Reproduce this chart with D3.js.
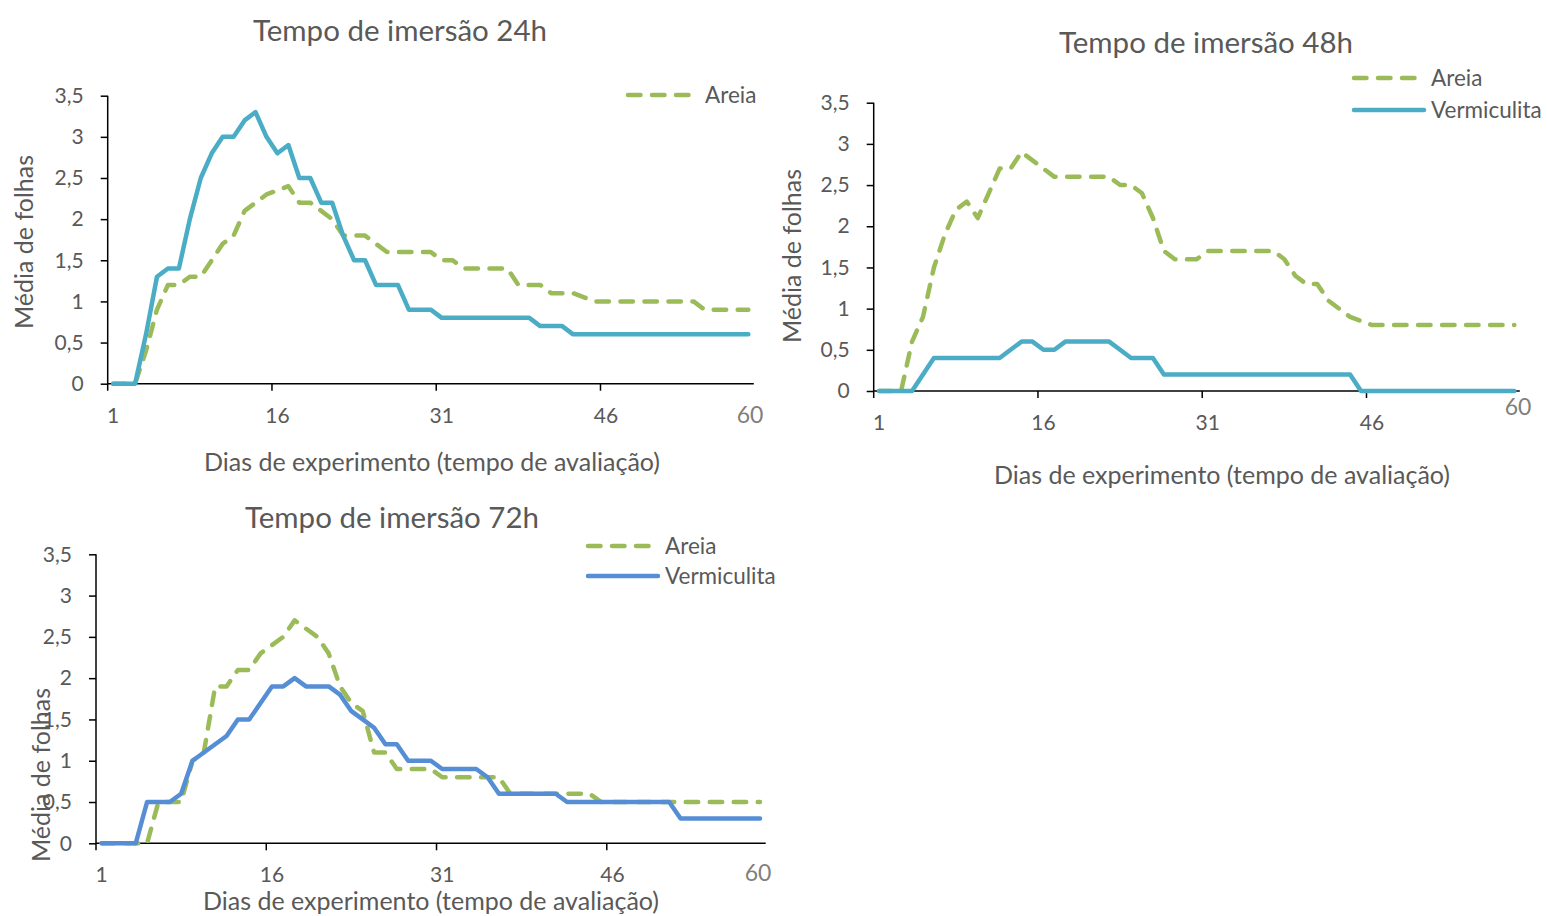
<!DOCTYPE html>
<html>
<head>
<meta charset="utf-8">
<script src="https://cdn.jsdelivr.net/npm/d3@7"></script>
<style>
  body { margin: 0; background: #fff; }
  svg { display: block; font-family: Lato, "Open Sans", sans-serif; }
</style>
</head>
<body>
<svg id="chart" width="1547" height="916"></svg>
<script>
// Evaluation days (category axis) and the labelled days
const days = [1,2,3,4,5,6,7,8,9,10,11,12,13,14,15,16,17,18,19,20,21,22,23,24,25,26,27,28,29,30,
              31,32,33,34,35,36,37,38,39,40,41,42,43,44,45,46,47,48,49,50,51,52,53,54,55,56,57,58,59];
const xTickDays = [1, 16, 31, 46];
const yTicks = [0, 0.5, 1, 1.5, 2, 2.5, 3, 3.5];
const lastDayLabel = "60";

const seriesNames = ["Areia", "Vermiculita"];
const chartTitles = ["Tempo de imersão 24h", "Tempo de imersão 48h", "Tempo de imersão 72h"];
const xAxisTitle = "Dias de experimento (tempo de avaliação)";
const yAxisTitle = "Média de folhas";

// Mean number of leaves per day — 24 h immersion
const areia24 = [0,0,0,0.4,0.9,1.2,1.2,1.3,1.3,1.5,1.7,1.8,2.1,2.2,2.3,2.35,2.4,2.2,2.2,2.1,
                 2.0,1.8,1.8,1.8,1.7,1.6,1.6,1.6,1.6,1.6,1.5,1.5,1.4,1.4,1.4,1.4,1.4,1.2,1.2,1.2,
                 1.1,1.1,1.1,1.05,1.0,1.0,1.0,1.0,1.0,1.0,1.0,1.0,1.0,1.0,0.9,0.9,0.9,0.9,0.9];
const verm24  = [0,0,0,0.6,1.3,1.4,1.4,2.0,2.5,2.8,3.0,3.0,3.2,3.3,3.0,2.8,2.9,2.5,2.5,2.2,
                 2.2,1.8,1.5,1.5,1.2,1.2,1.2,0.9,0.9,0.9,0.8,0.8,0.8,0.8,0.8,0.8,0.8,0.8,0.8,0.7,
                 0.7,0.7,0.6,0.6,0.6,0.6,0.6,0.6,0.6,0.6,0.6,0.6,0.6,0.6,0.6,0.6,0.6,0.6,0.6];

// 48 h immersion
const areia48 = [0,0,0,0.6,0.9,1.5,1.9,2.2,2.3,2.1,2.4,2.7,2.7,2.9,2.8,2.7,2.6,2.6,2.6,2.6,
                 2.6,2.6,2.5,2.5,2.4,2.1,1.7,1.6,1.6,1.6,1.7,1.7,1.7,1.7,1.7,1.7,1.7,1.6,1.4,1.3,
                 1.3,1.1,1.0,0.9,0.85,0.8,0.8,0.8,0.8,0.8,0.8,0.8,0.8,0.8,0.8,0.8,0.8,0.8,0.8];
const verm48  = [0,0,0,0,0.2,0.4,0.4,0.4,0.4,0.4,0.4,0.4,0.5,0.6,0.6,0.5,0.5,0.6,0.6,0.6,
                 0.6,0.6,0.5,0.4,0.4,0.4,0.2,0.2,0.2,0.2,0.2,0.2,0.2,0.2,0.2,0.2,0.2,0.2,0.2,0.2,
                 0.2,0.2,0.2,0.2,0,0,0,0,0,0,0,0,0,0,0,0,0,0,0];

// 72 h immersion
const areia72 = [0,0,0,0,0,0.5,0.5,0.5,1.0,1.1,1.9,1.9,2.1,2.1,2.3,2.4,2.5,2.7,2.6,2.5,
                 2.3,1.9,1.7,1.6,1.1,1.1,0.9,0.9,0.9,0.9,0.8,0.8,0.8,0.8,0.8,0.8,0.6,0.6,0.6,0.6,
                 0.6,0.6,0.6,0.6,0.5,0.5,0.5,0.5,0.5,0.5,0.5,0.5,0.5,0.5,0.5,0.5,0.5,0.5,0.5];
const verm72  = [0,0,0,0,0.5,0.5,0.5,0.6,1.0,1.1,1.2,1.3,1.5,1.5,1.7,1.9,1.9,2.0,1.9,1.9,
                 1.9,1.8,1.6,1.5,1.4,1.2,1.2,1.0,1.0,1.0,0.9,0.9,0.9,0.9,0.8,0.6,0.6,0.6,0.6,0.6,
                 0.6,0.5,0.5,0.5,0.5,0.5,0.5,0.5,0.5,0.5,0.5,0.3,0.3,0.3,0.3,0.3,0.3,0.3,0.3];

const GREEN = "#9BBB59";
const TEXT = "#595959";
const FONT = "Lato, 'Open Sans', sans-serif";

const panels = [
  { title: chartTitles[0], areia: areia24, verm: verm24, blue: "#4BACC6",
    left: 107.7, right: 753.8, top: 95.7, bottom: 383.7,
    titlePos: [400, 31], xTitlePos: [432, 462], yTitlePos: [24, 242], lastPos: [750, 415],
    legend: { x: 628, y: 95, gap: 32, items: [0] } },
  { title: chartTitles[1], areia: areia48, verm: verm48, blue: "#4BACC6",
    left: 873.7, right: 1519.8, top: 102.7, bottom: 391,
    titlePos: [1206, 43], xTitlePos: [1222, 475], yTitlePos: [792, 256], lastPos: [1518, 407],
    legend: { x: 1354, y: 78, gap: 32, items: [0, 1] } },
  { title: chartTitles[2], areia: areia72, verm: verm72, blue: "#558ED5",
    left: 96, right: 765.7, top: 554.3, bottom: 843.3,
    titlePos: [392, 518], xTitlePos: [431, 901], yTitlePos: [41, 775], lastPos: [758, 873],
    legend: { x: 588, y: 546, gap: 30, items: [0, 1] } }
];

const svg = d3.select("#chart");
const ptBR = d3.formatLocale({ decimal: ",", thousands: ".", grouping: [3], currency: ["R$", ""] });
const fmt = v => ptBR.format("~g")(v);

const DASH = "12.5 11.5";
const LW = 4.5;

panels.forEach(p => {
  const g = svg.append("g");

  const x = d3.scaleBand().domain(days).range([p.left, p.right]).paddingInner(0).paddingOuter(0);
  const bw = x.bandwidth();
  const y = d3.scaleLinear().domain([0, 3.5]).range([p.bottom, p.top]);

  // title
  g.append("text")
    .attr("x", p.titlePos[0]).attr("y", p.titlePos[1])
    .attr("text-anchor", "middle").attr("dy", "0.35em")
    .attr("font-size", 29.5).attr("fill", TEXT)
    .text(p.title);

  // y axis
  const yAxis = d3.axisLeft(y).tickValues(yTicks).tickFormat(fmt).tickSize(7).tickPadding(17);
  const ya = g.append("g").attr("transform", `translate(${p.left},0)`).call(yAxis);
  ya.select(".domain").attr("stroke", "#000").attr("stroke-width", 1.5)
    .attr("d", `M0,${p.top}V${p.bottom + 7}`);
  ya.selectAll(".tick line").attr("stroke", "#000").attr("stroke-width", 1.5);
  ya.selectAll(".tick text").attr("fill", TEXT).attr("font-size", 21).attr("font-family", FONT);

  // x axis: labels centred on their day, ticks on category boundaries
  const xAxis = d3.axisBottom(x).tickValues(xTickDays).tickSize(0).tickPadding(24);
  const xa = g.append("g").attr("transform", `translate(0,${p.bottom})`).call(xAxis);
  xa.select(".domain").attr("stroke", "#000").attr("stroke-width", 1.5)
    .attr("d", `M${p.left},0H${p.right}`);
  xa.selectAll(".tick text").attr("fill", TEXT).attr("font-size", 21).attr("font-family", FONT);
  g.selectAll(".xtick").data(xTickDays.slice(1)).enter().append("line")
    .attr("x1", d => x(d)).attr("x2", d => x(d))
    .attr("y1", p.bottom).attr("y2", p.bottom + 7)
    .attr("stroke", "#000").attr("stroke-width", 1.5);

  // final day label
  g.append("text")
    .attr("x", p.lastPos[0]).attr("y", p.lastPos[1]).attr("dy", "0.35em")
    .attr("text-anchor", "middle").attr("font-size", 23).attr("fill", "#7F7F7F")
    .text(lastDayLabel);

  // axis titles
  g.append("text")
    .attr("x", p.xTitlePos[0]).attr("y", p.xTitlePos[1]).attr("dy", "0.35em")
    .attr("text-anchor", "middle").attr("font-size", 25).attr("fill", TEXT)
    .text(xAxisTitle);
  g.append("text")
    .attr("transform", `translate(${p.yTitlePos[0]},${p.yTitlePos[1]}) rotate(-90)`)
    .attr("dy", "0.35em").attr("text-anchor", "middle")
    .attr("font-size", 25).attr("fill", TEXT)
    .text(yAxisTitle);

  // series lines
  const line = d3.line()
    .x((v, i) => x(days[i]) + bw / 2)
    .y(v => y(v));

  g.append("path").datum(p.areia)
    .attr("d", line).attr("fill", "none")
    .attr("stroke", GREEN).attr("stroke-width", LW)
    .attr("stroke-dasharray", DASH)
    .attr("stroke-linecap", "round").attr("stroke-linejoin", "round");

  g.append("path").datum(p.verm)
    .attr("d", line).attr("fill", "none")
    .attr("stroke", p.blue).attr("stroke-width", LW)
    .attr("stroke-linecap", "round").attr("stroke-linejoin", "round");

  // legend
  p.legend.items.forEach((k, row) => {
    const ly = p.legend.y + row * p.legend.gap;
    const lg = g.append("g");
    lg.append("line")
      .attr("x1", p.legend.x).attr("x2", p.legend.x + (k === 0 ? 65 : 70))
      .attr("y1", ly).attr("y2", ly)
      .attr("stroke", k === 0 ? GREEN : p.blue).attr("stroke-width", LW)
      .attr("stroke-linecap", "round")
      .attr("stroke-dasharray", k === 0 ? DASH : null);
    lg.append("text")
      .attr("x", p.legend.x + 77).attr("y", ly).attr("dy", "0.35em")
      .attr("font-size", 22.5).attr("fill", TEXT)
      .text(seriesNames[k]);
  });
});
</script>
</body>
</html>
